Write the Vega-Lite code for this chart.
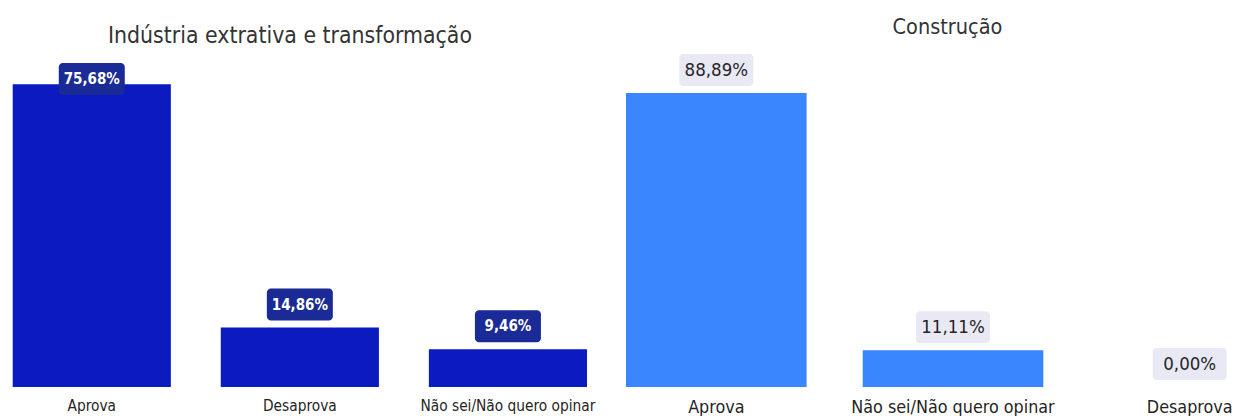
{
  "$schema": "https://vega.github.io/schema/vega-lite/v6.json",
  "padding": {"top": 17, "left": 0, "right": 0, "bottom": 0},
  "autosize": {"type": "pad"},
  "background": "white",
  "config": {
    "view": {"stroke": null},
    "locale": {"number": {"decimal": ",", "thousands": ".", "grouping": [3], "currency": ["R$", ""]}},
    "font": "DejaVu Sans Condensed"
  },
  "datasets": {
    "ind": [
      {"resposta": "Aprova", "valor": 0.7568},
      {"resposta": "Desaprova", "valor": 0.1486},
      {"resposta": "Não sei/Não quero opinar", "valor": 0.0946}
    ],
    "con": [
      {"resposta": "Aprova", "valor": 0.8889},
      {"resposta": "Não sei/Não quero opinar", "valor": 0.1111},
      {"resposta": "Desaprova", "valor": 0.0}
    ]
  },
  "spacing": 0,
  "hconcat": [
    {
      "width": 600,
      "height": 332,
      "data": {"name": "ind"},
      "title": {"text": "Indústria extrativa e transformação", "font": "DejaVu Sans Condensed", "fontSize": 22.8, "fontWeight": "normal", "color": "#333333", "anchor": "middle", "baseline": "alphabetic", "offset": -11, "dx": -10},
      "encoding": {
        "x": {
          "field": "resposta", "type": "nominal",
          "sort": ["Aprova", "Desaprova", "Não sei/Não quero opinar"],
          "scale": {"range": [12.7, 587], "paddingInner": 0.24, "paddingOuter": 0},
          "axis": {"title": null, "domain": false, "ticks": false, "grid": false, "labelAngle": 0, "labelFont": "DejaVu Sans Condensed", "labelFontSize": 15.3, "labelColor": "#252423", "labelPadding": 11, "labelLimit": 400}
        }
      },
      "layer": [
        {
          "mark": {"type": "bar", "color": "#0b1bbf"},
          "encoding": {
            "y": {"field": "valor", "type": "quantitative", "scale": {"domain": [0, 0.83], "nice": false, "zero": true}, "axis": null}
          }
        },
        {
          "mark": {"type": "bar", "color": "#1a2a96", "width": 66, "cornerRadius": 4, "yOffset": -39, "y2Offset": -7},
          "encoding": {
            "y": {"field": "valor", "type": "quantitative", "scale": {"domain": [0, 0.7125], "range": [332, 47], "clamp": true, "nice": false, "zero": true}, "axis": null},
            "y2": {"field": "valor"}
          }
        },
        {
          "mark": {"type": "text", "color": "white", "font": "DejaVu Sans Condensed", "fontSize": 15, "fontWeight": "bold", "baseline": "middle", "align": "center", "yOffset": -23},
          "encoding": {
            "y": {"field": "valor", "type": "quantitative", "scale": {"domain": [0, 0.7125], "range": [332, 47], "clamp": true, "nice": false, "zero": true}, "axis": null},
            "text": {"field": "valor", "type": "quantitative", "format": ".2%"}
          }
        }
      ],
      "resolve": {"scale": {"y": "independent"}}
    },
    {
      "width": 651,
      "height": 332,
      "data": {"name": "con"},
      "title": {"text": "Construção", "font": "DejaVu Sans Condensed", "fontSize": 21.5, "fontWeight": "normal", "color": "#333333", "anchor": "middle", "baseline": "alphabetic", "offset": -1.5, "dx": 22},
      "encoding": {
        "x": {
          "field": "resposta", "type": "nominal",
          "sort": ["Aprova", "Não sei/Não quero opinar", "Desaprova"],
          "scale": {"range": [26, 680], "paddingInner": 0.237, "paddingOuter": 0},
          "axis": {"title": null, "domain": false, "ticks": false, "grid": false, "labelAngle": 0, "labelFont": "DejaVu Sans Condensed", "labelFontSize": 17.8, "labelColor": "#252423", "labelPadding": 11, "labelLimit": 400}
        },
        "y": {"field": "valor", "type": "quantitative", "scale": {"domain": [0, 1.004], "nice": false, "zero": true}, "axis": null}
      },
      "layer": [
        {
          "transform": [{"filter": "datum.valor > 0"}],
          "mark": {"type": "bar", "color": "#3a86ff"}
        },
        {
          "mark": {"type": "bar", "color": "#e8e9f4", "width": 74, "cornerRadius": 4, "yOffset": -39, "y2Offset": -7},
          "encoding": {"y2": {"field": "valor"}}
        },
        {
          "mark": {"type": "text", "color": "#252423", "font": "DejaVu Sans Condensed", "fontSize": 18.5, "baseline": "middle", "align": "center", "yOffset": -23},
          "encoding": {
            "text": {"field": "valor", "type": "quantitative", "format": ".2%"}
          }
        }
      ]
    }
  ]
}
